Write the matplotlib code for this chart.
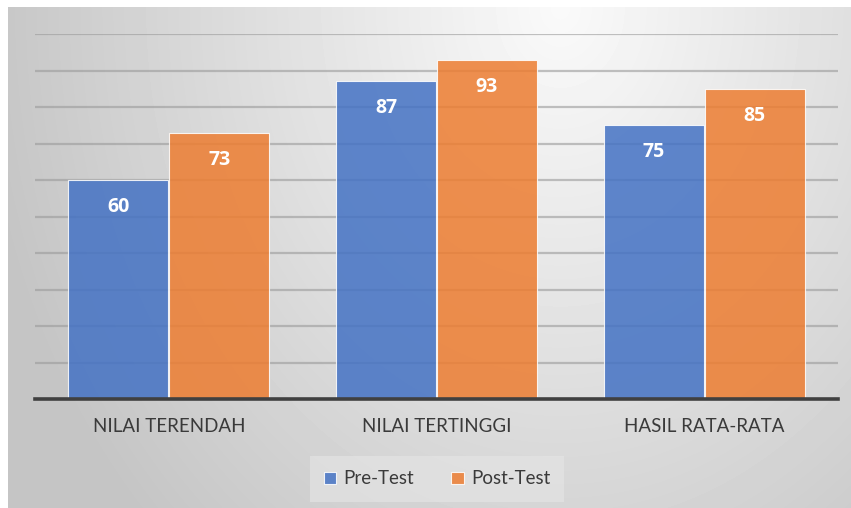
import numpy as np
import matplotlib
matplotlib.use("Agg")
import matplotlib.pyplot as plt

categories = ["NILAI TERENDAH", "NILAI TERTINGGI", "HASIL RATA-RATA"]
series_names = ["Pre-Test", "Post-Test"]
pre_test = [60, 87, 75]
post_test = [73, 93, 85]
colors = ["#4472C4", "#ED7D31"]

plt.rcParams['font.family'] = ['Lato', 'DejaVu Sans']

W, H = 851, 508
fig = plt.figure(figsize=(W / 100, H / 100), dpi=100)
fig.patch.set_facecolor("white")

# background radial gradient panel
bg = fig.add_axes([8 / W, 0, (W - 8) / W, (H - 7) / H], zorder=0)
yy, xx = np.mgrid[0:H - 7, 8:W]
d = np.sqrt((xx - 560.0) ** 2 + (yy * 0.8) ** 2)
v = np.clip(0.98 - 0.2 * (d / 560.0), 0.77, 1.0)
bg.imshow(v, cmap="gray", vmin=0, vmax=1, aspect="auto", interpolation="bilinear")
bg.set_axis_off()

ax = fig.add_axes([35 / W, 109 / H, (838 - 35) / W, (399 - 34) / H], zorder=1)
ax.set_facecolor("none")
ax.set_xlim(-0.5, 2.5)
ax.set_ylim(0, 100)
ax.set_yticks(np.arange(10, 101, 10))
ax.yaxis.grid(True, color="#9a9a9a", linewidth=1.6, alpha=0.6)
ax.set_axisbelow(True)
for s in ax.spines.values():
    s.set_visible(False)
ax.tick_params(axis="y", length=0, labelleft=False)
ax.tick_params(axis="x", length=0, pad=14, labelsize=13.5, labelcolor="#3a3a3a")

x = np.arange(len(categories))
bw = 0.373
for i, (vals, name) in enumerate(zip([pre_test, post_test], series_names)):
    pos = x + (i - 0.5) * (bw + 0.004)
    bars = ax.bar(pos, vals, width=bw, color=colors[i], alpha=0.85,
                  edgecolor=(1, 1, 1, 0.6), linewidth=0.8, label=name, zorder=2)
    for xp, val in zip(pos, vals):
        ax.annotate(f"{val}", (xp, val), xytext=(0, -27), textcoords="offset pixels",
                    ha="center", va="center", color="white", fontsize=14,
                    fontweight="bold", family=["Open Sans", "DejaVu Sans"], zorder=3)

ax.axhline(0, color="#404040", linewidth=2.6, zorder=4, clip_on=False)
ax.set_xticks(x)
ax.set_xticklabels(categories)

handles, labels = ax.get_legend_handles_labels()
leg = fig.legend(handles, labels, loc="center", bbox_to_anchor=(437 / W, (H - 479) / H),
                 ncol=2, frameon=True, fontsize=13.5, handlelength=0.65, handleheight=0.65,
                 handletextpad=0.4, columnspacing=2.0, borderpad=0.75)
leg.get_frame().set_facecolor("#e6e6e6")
leg.get_frame().set_alpha(0.6)
leg.get_frame().set_edgecolor("none")
leg.get_frame().set_boxstyle("square", pad=0)
for t in leg.get_texts():
    t.set_color("#3a3a3a")

fig.savefig("out.png", dpi=100)
